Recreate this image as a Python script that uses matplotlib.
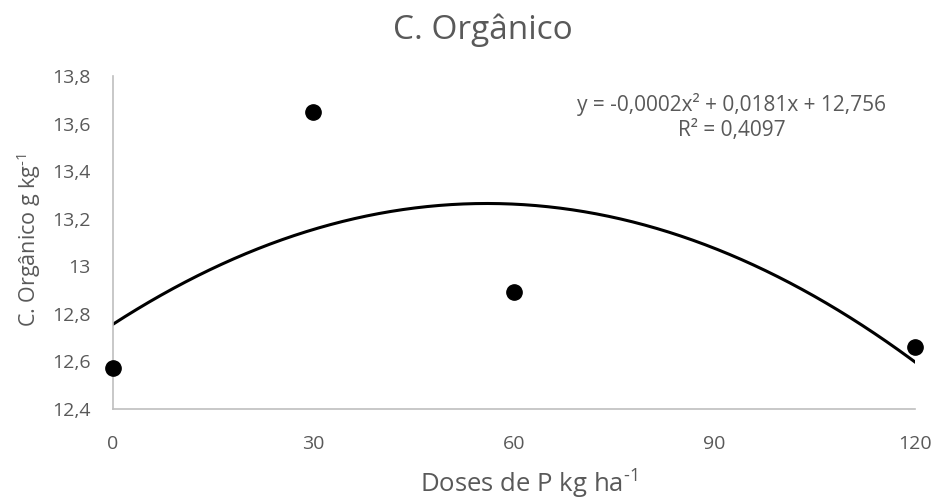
import numpy as np
import matplotlib
matplotlib.use("Agg")
import matplotlib.pyplot as plt

# data
doses = [0, 30, 60, 120]
c_org = [12.57, 13.65, 12.89, 12.66]
x_ticks = [0, 30, 60, 90, 120]
y_ticks = [12.4, 12.6, 12.8, 13.0, 13.2, 13.4, 13.6, 13.8]
y_tick_labels = ["12,4", "12,6", "12,8", "13", "13,2", "13,4", "13,6", "13,8"]
equation = "y = -0,0002x² + 0,0181x + 12,756"
r2_text = "R² = 0,4097"

plt.rcParams["font.family"] = ["Open Sans", "DejaVu Sans"]
plt.rcParams["mathtext.fontset"] = "custom"
plt.rcParams["mathtext.rm"] = "Open Sans"
txt_color = "#595959"

fig = plt.figure(figsize=(9.41, 5.01), dpi=100)
ax = fig.add_axes([0.120, 0.184, 0.852, 0.664])

# second order trend line, like the spreadsheet one
coef = np.polyfit(doses, c_org, 2)
xs = np.linspace(0, 120, 200)
ax.plot(xs, np.polyval(coef, xs), color="black", lw=2.2, zorder=2)
ax.plot(doses, c_org, "o", color="black", ms=11, zorder=3, clip_on=False)

ax.set_xlim(0, 120)
ax.set_ylim(12.4, 13.8)
ax.set_xticks(x_ticks)
ax.set_yticks(y_ticks)
ax.set_yticklabels(y_tick_labels)
ax.tick_params(axis="x", length=0, labelsize=14, labelcolor=txt_color, pad=19)
ax.tick_params(axis="y", length=0, labelsize=14, labelcolor=txt_color, pad=16)

for side in ["top", "right"]:
    ax.spines[side].set_visible(False)
for side in ["left", "bottom"]:
    ax.spines[side].set_color("#bfbfbf")
    ax.spines[side].set_linewidth(1.2)

fig.text(0.513, 0.94, "C. Orgânico", fontsize=24, color=txt_color, ha="center", va="center")
fig.text(0.562, 0.036, r"Doses de P kg ha$^{\text{-1}}$", fontsize=18.5,
         color=txt_color, ha="center", va="center")
fig.text(0.03, 0.52, r"C. Orgânico g kg$^{\text{-1}}$", fontsize=15.5,
         color=txt_color, ha="center", va="center", rotation=90)

ax.text(0.772, 0.916, equation, transform=ax.transAxes, ha="center", va="center",
        fontsize=15, color=txt_color)
ax.text(0.772, 0.838, r2_text, transform=ax.transAxes, ha="center", va="center",
        fontsize=15, color=txt_color)

fig.savefig("out.png", dpi=100)
